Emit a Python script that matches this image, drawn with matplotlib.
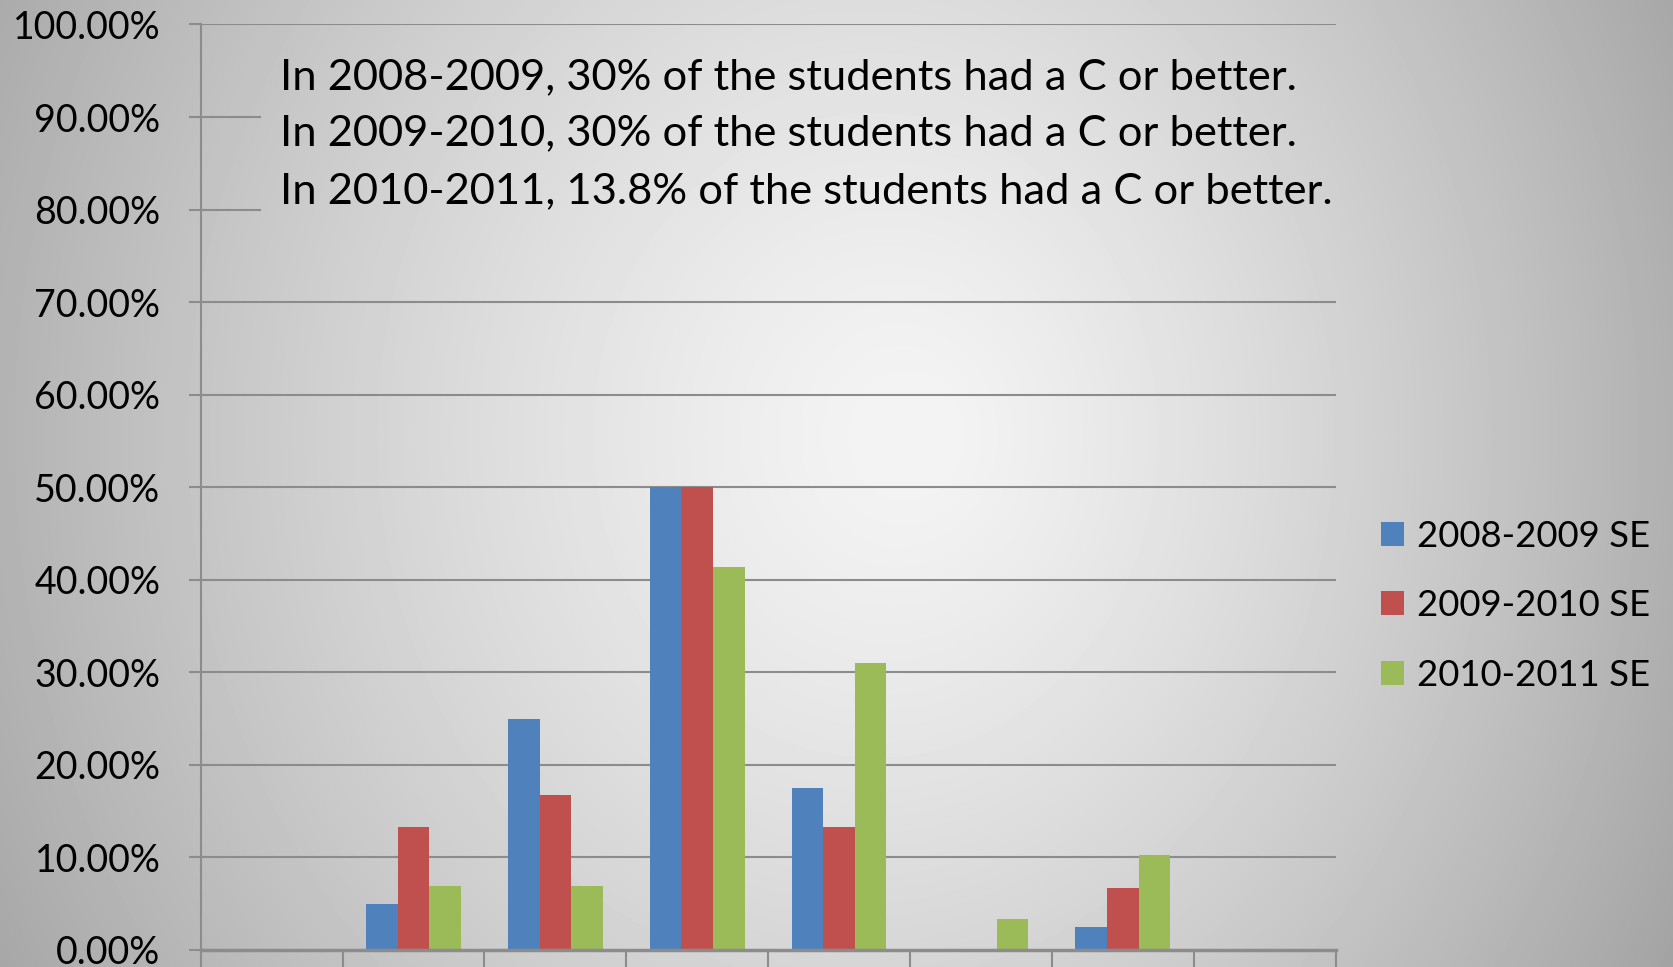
import numpy as np
import matplotlib
matplotlib.use('Agg')
import matplotlib.pyplot as plt

# dados (percentual de alunos por categoria)
categorias = ['', '', '', '', '', '', '', '']
serie_2008 = [0.0, 5.0, 25.0, 50.0, 17.5, 0.0, 2.5, 0.0]
serie_2009 = [0.0, 13.3, 16.7, 50.0, 13.3, 0.0, 6.7, 0.0]
serie_2010 = [0.0, 6.9, 6.9, 41.4, 31.0, 3.4, 10.3, 0.0]
nomes = ['2008-2009 SE', '2009-2010 SE', '2010-2011 SE']
cores = ['#4f81bd', '#c0504d', '#9bbb59']
yticks = [0, 10, 20, 30, 40, 50, 60, 70, 80, 90, 100]
anotacoes = ['In 2008-2009, 30% of the students had a C or better.',
             'In 2009-2010, 30% of the students had a C or better.',
             'In 2010-2011, 13.8% of the students had a C or better.']

plt.rcParams['font.family'] = ['Lato', 'DejaVu Sans']

fig = plt.figure(figsize=(16.74, 9.67), dpi=100)

# fundo com gradiente radial (claro no centro, cinza nas bordas)
fundo = fig.add_axes([0, 0, 1, 1], zorder=0)
xx, yy = np.meshgrid(np.linspace(0, 1, 400), np.linspace(0, 1, 240))
d = np.sqrt(((xx - 0.55) / 0.6) ** 2 + ((yy - 0.45) / 1.2) ** 2)
v = (255 - 85 * d ** 1.3 - 20 * xx) / 255.0
fundo.imshow(np.clip(v, 0, 1), cmap='gray', vmin=0, vmax=1, aspect='auto',
             extent=[0, 1, 1, 0], interpolation='bilinear')
fundo.set_xlim(0, 1)
fundo.set_ylim(1, 0)
fundo.axis('off')

ax = fig.add_axes([0.1199, 0.0176, 0.6779, 0.9571], zorder=1)
ax.patch.set_alpha(0)

x = np.arange(len(categorias))
w = 0.223
for i, (serie, nome, cor) in enumerate(zip([serie_2008, serie_2009, serie_2010], nomes, cores)):
    ax.bar(x + (i - 1) * w, serie, width=w, color=cor, label=nome, zorder=3)

ax.set_xlim(-0.5, len(categorias) - 0.5)
ax.set_ylim(0, 100)

# linhas de grade (80% e 90% ficam escondidas pela caixa de texto)
for yv in yticks[1:]:
    if yv in (80, 90):
        ax.axhline(yv, xmin=0, xmax=0.052, color='#8c8c8c', lw=1.5, zorder=1)
    else:
        ax.axhline(yv, color='#8c8c8c', lw=1.5, zorder=1)

ax.set_yticks(yticks)
ax.set_yticklabels(['%.2f%%' % t for t in yticks])
ax.tick_params(axis='y', length=9, width=1.5, color='#8c8c8c', pad=20, labelsize=27)
ax.set_xticks(np.arange(-0.5, len(categorias), 1))
ax.set_xticklabels([])
ax.tick_params(axis='x', length=13, width=1.5, color='#8c8c8c', direction='out')

for s in ['top', 'right']:
    ax.spines[s].set_visible(False)
ax.spines['left'].set_color('#8c8c8c')
ax.spines['left'].set_linewidth(1.5)
ax.spines['bottom'].set_color('#8c8c8c')
ax.spines['bottom'].set_linewidth(2.5)
ax.spines['bottom'].set_zorder(4)

for txt, yv in zip(anotacoes, [94.3, 88.2, 82.0]):
    ax.text(0.057, yv, txt, fontsize=31.3, va='center', ha='left', zorder=5)

ax.legend(loc='center left', bbox_to_anchor=(1.011, 0.372), frameon=False,
          fontsize=26.3, handlelength=0.62, handleheight=0.62, labelspacing=1.0,
          handletextpad=0.38)

plt.savefig('out.png', dpi=100)
